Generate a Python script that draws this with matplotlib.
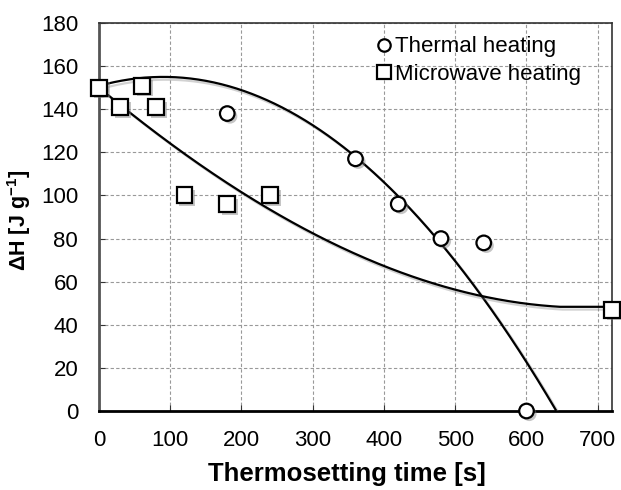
import numpy as np
import matplotlib.pyplot as plt
import matplotlib.patheffects as pe

plt.rcParams['font.family'] = ['Liberation Sans', 'DejaVu Sans']

# measured enthalpy vs. thermosetting time
thermal_t = [0, 180, 360, 420, 480, 540, 600]
thermal_dh = [150, 138, 117, 96, 80, 78, 0]
microwave_t = [0, 30, 60, 80, 120, 180, 240, 720]
microwave_dh = [150, 141, 151, 141, 100, 96, 100, 47]

# trend curves (read along the drawn fits)
thermal_fit_t = [0, 111, 275, 361, 480, 641]
thermal_fit_dh = [151, 154.8, 137.5, 116.5, 79.3, 0]
microwave_fit_t = [0, 100, 200, 275, 408, 530, 647]
microwave_fit_dh = [150, 124, 102, 87, 65, 55, 48]
microwave_plateau_end = 720

fig = plt.figure(figsize=(6.21, 4.9), dpi=100)
ax = fig.add_axes([0.1594, 0.1612, 0.8261, 0.7918])

line_fx = [pe.SimpleLineShadow(offset=(2, -2), alpha=0.35, shadow_color='gray'), pe.Normal()]
mark_fx = [pe.SimplePatchShadow(offset=(2, -2), alpha=0.45, shadow_rgbFace='gray'), pe.Normal()]

# thermal: quadratic trend
c = np.polyfit(thermal_fit_t, thermal_fit_dh, 2)
tt = np.linspace(0, thermal_fit_t[-1], 300)
ax.plot(tt, np.polyval(c, tt), color='black', lw=1.6, path_effects=line_fx, zorder=3)

# microwave: cubic trend then plateau
c = np.polyfit(microwave_fit_t, microwave_fit_dh, 3)
tm = np.linspace(0, microwave_fit_t[-1], 300)
ym = np.polyval(c, tm)
ax.plot(np.append(tm, microwave_plateau_end), np.append(ym, ym[-1]),
        color='black', lw=1.6, path_effects=line_fx, zorder=3)

ax.plot(thermal_t, thermal_dh, 'o', ms=10.5, mfc='white', mec='black', mew=1.6,
        label='Thermal heating', clip_on=False, path_effects=mark_fx, zorder=4)
ax.plot(microwave_t, microwave_dh, 's', ms=11.5, mfc='white', mec='black', mew=1.6,
        label='Microwave heating', clip_on=False, path_effects=mark_fx, zorder=4)

ax.set_xlim(0, 720)
ax.set_ylim(0, 180)
ax.set_xticks(range(0, 701, 100))
ax.set_yticks(range(0, 181, 20))
ax.grid(True, color='#999999', ls=(0, (3, 2)), lw=0.8)
ax.tick_params(axis='both', labelsize=16, direction='in', length=4, colors='#333333',
               labelcolor='black')
ax.tick_params(axis='x', pad=14)
ax.tick_params(axis='y', pad=15)

ax.spines['left'].set_color('#555555')
ax.spines['left'].set_linewidth(2)
ax.spines['bottom'].set_color('black')
ax.spines['bottom'].set_linewidth(2)
for s in ('top', 'right'):
    ax.spines[s].set_color('#333333')
    ax.spines[s].set_linewidth(1.2)

ax.set_xlabel('Thermosetting time [s]', fontsize=18.5, fontweight='bold')
ax.xaxis.set_label_coords(0.483, -0.132)
ax.set_ylabel('ΔH [J g$^{\\mathregular{-1}}$]', fontsize=15.5, fontweight='bold')
ax.yaxis.set_label_coords(-0.129, 0.49)

leg = ax.legend(loc='upper right', bbox_to_anchor=(0.965, 1.0), frameon=False,
                fontsize=16, handletextpad=0.0, handlelength=1.0, borderaxespad=0.2,
                labelspacing=0.3, markerscale=0.85)
for h in leg.legend_handles:
    h.set_path_effects([])

fig.savefig('out.png', dpi=100)
